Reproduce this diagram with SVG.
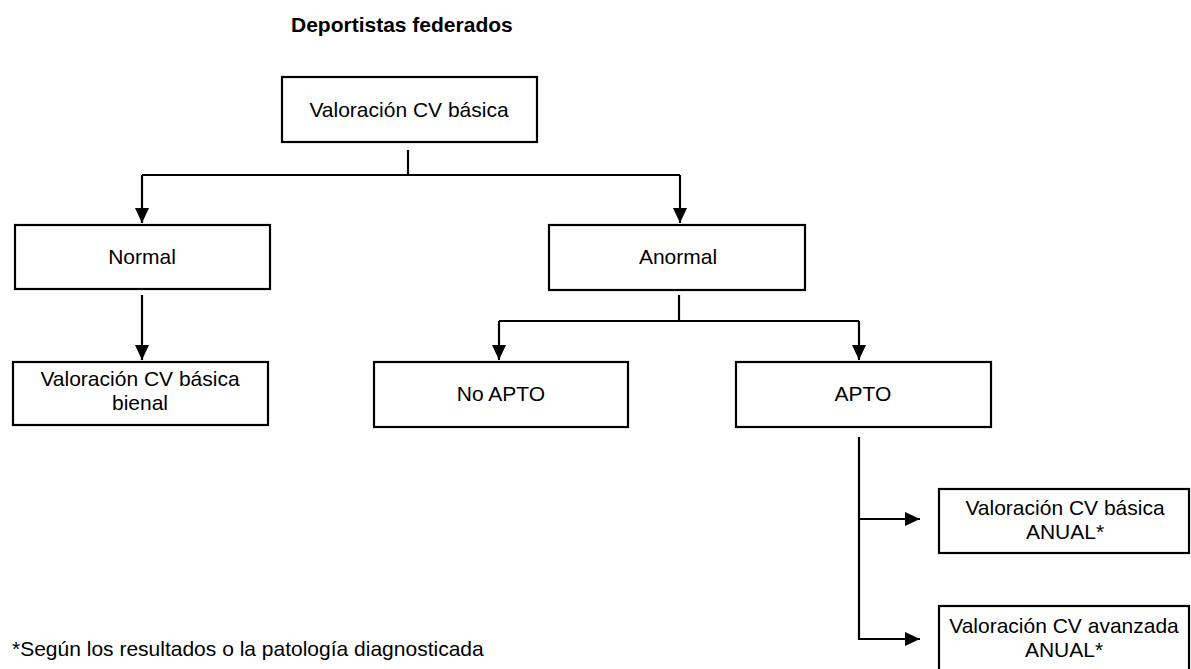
<svg xmlns="http://www.w3.org/2000/svg" width="1191" height="669" viewBox="0 0 1191 669">
<style>
.box{fill:#fff;stroke:#000;stroke-width:2.2}
.t{font-family:"Liberation Sans",Arial,sans-serif;font-size:21px;fill:#000;text-anchor:middle}
.title{font-family:"Liberation Sans",Arial,sans-serif;font-size:21px;font-weight:bold;fill:#000}
.foot{font-family:"Liberation Sans",Arial,sans-serif;font-size:21px;fill:#000}
.c{fill:none;stroke:#000;stroke-width:2.2}
</style>
<defs>
<marker id="ah" markerUnits="userSpaceOnUse" markerWidth="16" markerHeight="14" refX="15" refY="7" orient="auto">
<path d="M0,0 L15,7 L0,14 Z" fill="#000"/>
</marker>
</defs>
<text class="title" x="291" y="32">Deportistas federados</text>
<g id="connectors">
<path class="c" d="M408 150 V175"/>
<path class="c" d="M142 175 H680"/>
<path class="c" d="M142 175 V223" marker-end="url(#ah)"/>
<path class="c" d="M680 175 V223" marker-end="url(#ah)"/>
<path class="c" d="M142 295 V360" marker-end="url(#ah)"/>
<path class="c" d="M679 295 V321"/>
<path class="c" d="M499 321 H859"/>
<path class="c" d="M499 321 V360" marker-end="url(#ah)"/>
<path class="c" d="M859 321 V360" marker-end="url(#ah)"/>
<path class="c" d="M859 437 V640"/>
<path class="c" d="M859 519 H920" marker-end="url(#ah)"/>
<path class="c" d="M859 639 H920" marker-end="url(#ah)"/>
</g>
<g id="n-top">
<rect class="box" x="282" y="77" width="255" height="65"/>
<text class="t" x="409" y="117">Valoración CV básica</text>
</g>
<g id="n-normal">
<rect class="box" x="15" y="225" width="255" height="64"/>
<text class="t" x="142" y="264">Normal</text>
</g>
<g id="n-anormal">
<rect class="box" x="549" y="225" width="256" height="65"/>
<text class="t" x="678" y="264">Anormal</text>
</g>
<g id="n-bienal">
<rect class="box" x="13" y="362" width="255" height="63"/>
<text class="t" x="140" y="386">Valoración CV básica</text>
<text class="t" x="140" y="410">bienal</text>
</g>
<g id="n-noapto">
<rect class="box" x="374" y="362" width="254" height="65"/>
<text class="t" x="501" y="401">No APTO</text>
</g>
<g id="n-apto">
<rect class="box" x="736" y="362" width="255" height="65"/>
<text class="t" x="863" y="401">APTO</text>
</g>
<g id="n-anual1">
<rect class="box" x="939" y="489" width="250" height="64"/>
<text class="t" x="1065" y="515">Valoración CV básica</text>
<text class="t" x="1065" y="539">ANUAL*</text>
</g>
<g id="n-anual2">
<rect class="box" x="939" y="606" width="250" height="80"/>
<text class="t" x="1064" y="633">Valoración CV avanzada</text>
<text class="t" x="1064" y="657">ANUAL*</text>
</g>
<text class="foot" x="12" y="656">*Según los resultados o la patología diagnosticada</text>
</svg>
